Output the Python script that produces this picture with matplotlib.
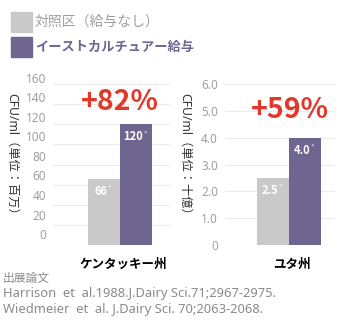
import matplotlib.pyplot as plt
from matplotlib.transforms import ScaledTranslation

plt.rcParams['font.family'] = ['Noto Sans CJK JP', 'DejaVu Sans']
LATIN = ['Noto Sans', 'Noto Sans CJK JP']

# data
regions = ['ケンタッキー州', 'ユタ州']
control_vals = [66, 2.5]
culture_vals = [120, 4.0]
value_fmt = ['{:.0f}', '{:.1f}']
gains = ['+82%', '+59%']
y_max = [160, 6.0]
y_ticks = [[0, 20, 40, 60, 80, 100, 120, 140, 160],
           [0, 1, 2, 3, 4, 5, 6]]
y_ticklabels = [['0', '20', '40', '60', '80', '100', '120', '140', '160'],
                ['0', '1.0', '2.0', '3.0', '4.0', '5.0', '6.0']]
y_labels = ['CFU/ml（単位：百万）', 'CFU/ml（単位：十億）']
legend_labels = ['対照区（給与なし）', 'イーストカルチュアー給与']
sources = ['出展論文',
           'Harrison  et  al.1988.J.Dairy Sci.71;2967-2975.',
           'Wiedmeier  et  al. J.Dairy Sci. 70;2063-2068.']

GRAY = '#c9c9c9'
PURPLE = '#6f6591'
RED = '#e0382a'
TICK_GRAY = '#a0a0a0'

W, H = 340, 329
fig = plt.figure(figsize=(W / 100, H / 100), dpi=100)


def px_box(x0, x1, ytop, ybot):
    """axes rect from pixel coords (origin top-left)"""
    return [x0 / W, 1 - ybot / H, (x1 - x0) / W, (ybot - ytop) / H]


axes = [fig.add_axes(px_box(53, 170, 84, 245)),
        fig.add_axes(px_box(225, 335, 84, 245))]
xlims = [(-2.09, 1.56), (-2.01, 1.45)]
label_shift = [True, False]

for i, ax in enumerate(axes):
    ax.bar(-0.5, control_vals[i], width=1, color=GRAY, zorder=2)
    ax.bar(0.5, culture_vals[i], width=1, color=PURPLE, zorder=2)
    ax.set_xlim(*xlims[i])
    ax.set_ylim(0, y_max[i])
    for s in ax.spines.values():
        s.set_visible(False)
    ax.set_yticks(y_ticks[i], y_ticklabels[i])
    ax.yaxis.grid(True, color='#ececec', lw=0.8, zorder=0)
    ax.tick_params(axis='y', length=0, pad=5, labelsize=8.5,
                   labelcolor=TICK_GRAY)
    for lab in ax.get_yticklabels():
        lab.set_fontfamily(LATIN)
    ax.set_xticks([0.1], [regions[i]])
    ax.tick_params(axis='x', length=0, pad=9, labelsize=9)
    for lab in ax.get_xticklabels():
        lab.set_fontweight('bold')

    if label_shift[i]:
        # tick labels sit a little above their gridlines here
        for v, lab in zip(y_ticks[i], ax.get_yticklabels()):
            dy = (6 + (y_max[i] - v) / y_max[i] * 5) / 100
            lab.set_transform(lab.get_transform()
                              + ScaledTranslation(0, dy, fig.dpi_scale_trans))

    # value labels inside the bars, with a small asterisk
    for x, v in [(-0.5, control_vals[i]), (0.5, culture_vals[i])]:
        t = ax.annotate(value_fmt[i].format(v), xy=(x - 0.1, v),
                        xytext=(0, -9), textcoords='offset points',
                        ha='center', va='center', color='white',
                        fontsize=8, fontweight='bold', zorder=3)
        ax.annotate('*', xy=(1.05, 1.0), xycoords=t, ha='left', va='top',
                    color='white', fontsize=5.5, alpha=0.85)

# gain annotations
fig.text(120 / W, 1 - 102 / H, gains[0], color=RED, fontsize=20.5,
         fontweight='bold', ha='center', va='center')
fig.text(290 / W, 1 - 110 / H, gains[1], color=RED, fontsize=20.5,
         fontweight='bold', ha='center', va='center')

# y-axis titles
fig.text(12 / W, 1 - 157 / H, y_labels[0], rotation=-90, fontsize=8.8,
         color='#333333', ha='center', va='center', family=LATIN)
fig.text(185 / W, 1 - 157 / H, y_labels[1], rotation=-90, fontsize=8.8,
         color='#333333', ha='center', va='center', family=LATIN)

# legend
for k, (lab, col) in enumerate(zip(legend_labels, [GRAY, PURPLE])):
    ytop = 12 + 25 * k
    fig.patches.append(plt.Rectangle((11 / W, 1 - (ytop + 20) / H),
                                     21 / W, 20 / H, color=col,
                                     transform=fig.transFigure))
    fig.text(35 / W, 1 - (ytop + 10) / H, lab,
             fontsize=10 if k == 0 else 9.5,
             color=TICK_GRAY if k == 0 else PURPLE,
             fontweight='normal' if k == 0 else 'bold', va='center')

# references
fig.text(3 / W, 1 - 278 / H, sources[0], fontsize=8.5,
         color='#8a8a8a', va='center')
for k, line in enumerate(sources[1:]):
    fig.text(3 / W, 1 - (294 + 16 * k) / H, line, fontsize=9.3,
             color='#8a8a8a', va='center', family=LATIN)

fig.savefig('out.png', dpi=100)
